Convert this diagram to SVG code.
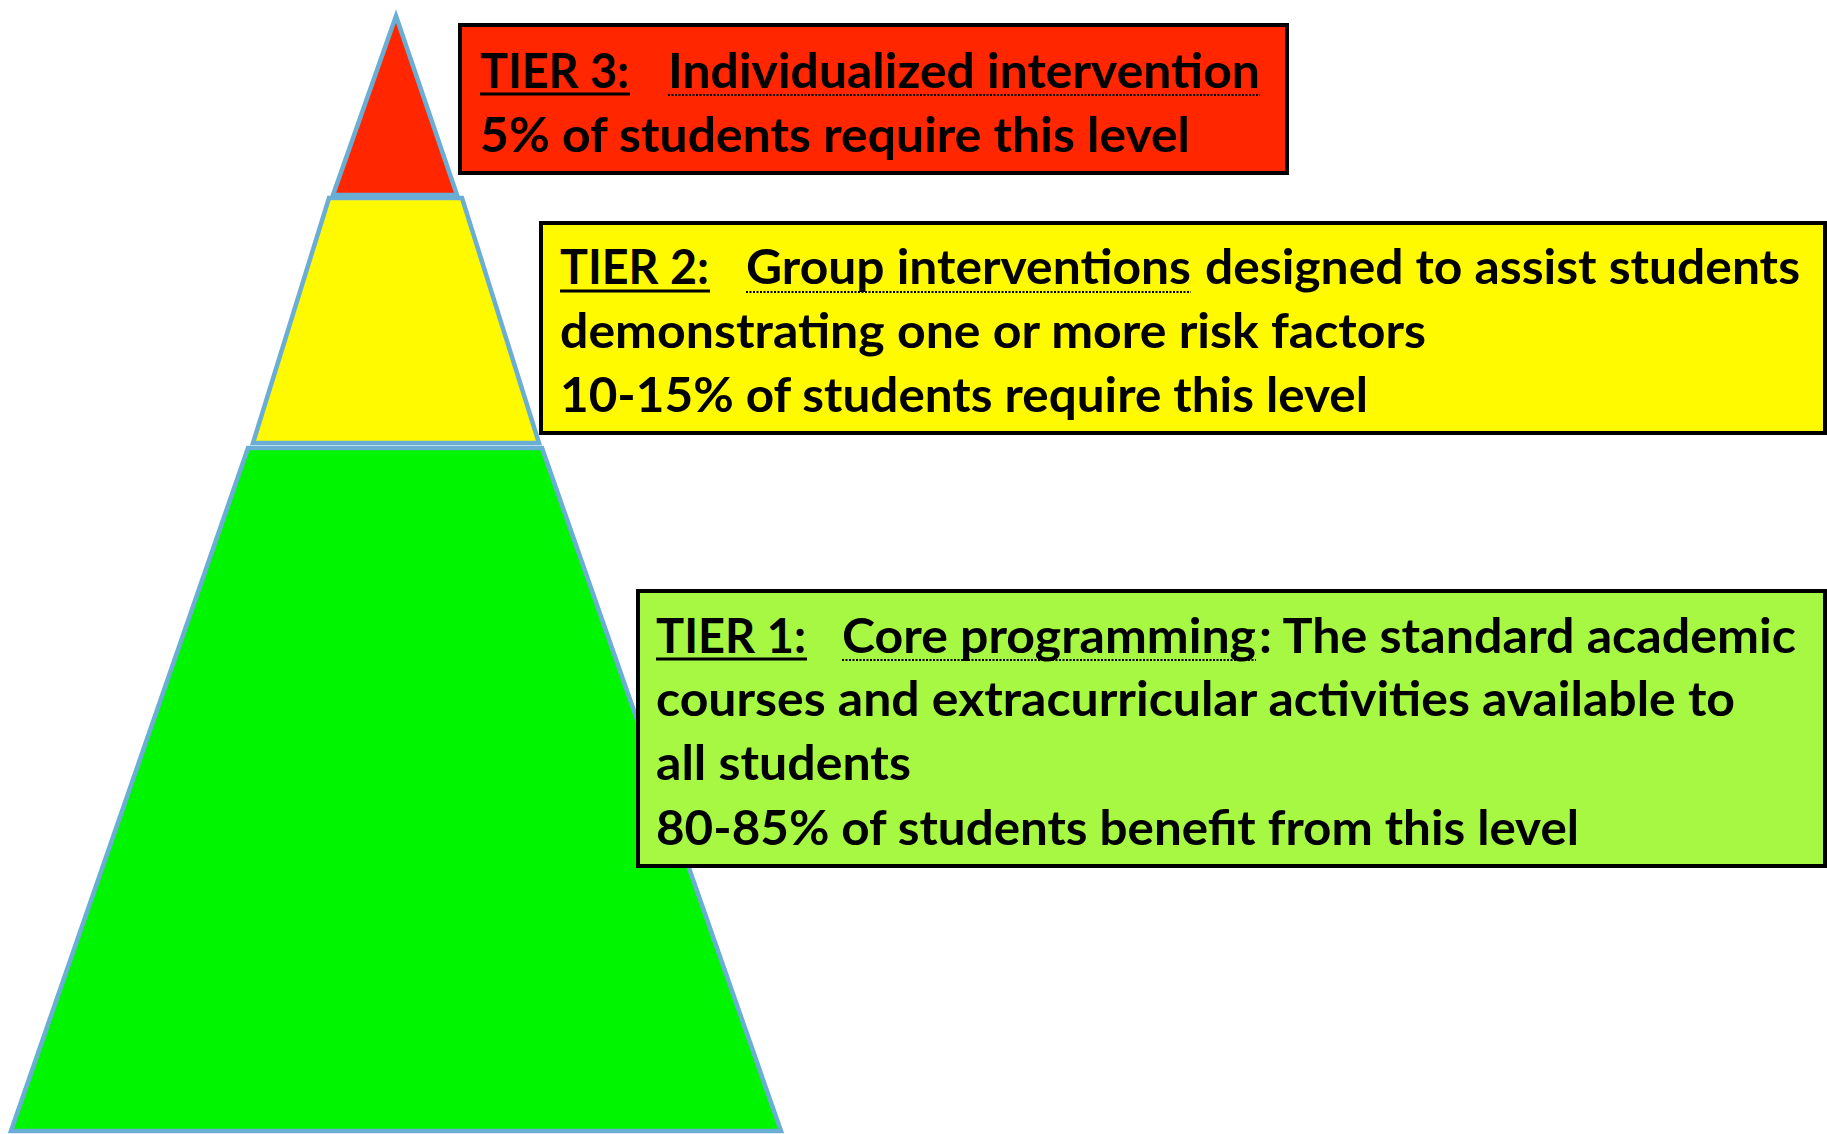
<svg xmlns="http://www.w3.org/2000/svg" width="1827" height="1134" viewBox="0 0 1827 1134">
<style>
.tier{stroke:#6AAED6;stroke-width:4.5;stroke-linejoin:miter;stroke-miterlimit:10}
.box{stroke:#000;stroke-width:4}
.t{font-family:Lato,"Liberation Sans",sans-serif;font-weight:700;font-size:47.5px;fill:#000}
.ul{stroke:#000;stroke-width:3}
.dul{stroke:#000;stroke-width:2;stroke-dasharray:2 1.5}
</style>
<rect width="1827" height="1134" fill="#fff"/>
<g id="pyramid">
<polygon id="tier3-shape" class="tier" fill="#FF2600" points="396,16 457,195 333,195"/>
<polygon id="tier2-shape" class="tier" fill="#FFFA00" points="329,198 462,198 539,443 253,443"/>
<polygon id="tier1-shape" class="tier" fill="#00F500" points="248,448 542,448 781,1131 11,1131"/>
</g>
<g id="tier3-box">
<rect class="box" x="460" y="25" width="827" height="148" fill="#FF2600"/>
<text class="t" x="480" y="88" textLength="149" lengthAdjust="spacingAndGlyphs">TIER 3:</text>
<text class="t" x="668" y="88" textLength="592" lengthAdjust="spacingAndGlyphs">Individualized intervention</text>
<line class="ul" x1="480" y1="94" x2="630" y2="94"/>
<line class="dul" x1="668" y1="95" x2="1260" y2="95"/>
<text class="t" x="480" y="152" textLength="710" lengthAdjust="spacingAndGlyphs">5% of students require this level</text>
</g>
<g id="tier2-box">
<rect class="box" x="541" y="223" width="1284" height="210" fill="#FFFA00"/>
<text class="t" x="560" y="284" textLength="149" lengthAdjust="spacingAndGlyphs">TIER 2:</text>
<text class="t" x="746" y="284" textLength="445" lengthAdjust="spacingAndGlyphs">Group interventions</text>
<text class="t" x="1205" y="284" textLength="595" lengthAdjust="spacingAndGlyphs">designed to assist students</text>
<line class="ul" x1="560" y1="291" x2="710" y2="291"/>
<line class="dul" x1="746" y1="292" x2="1191" y2="292"/>
<text class="t" x="560" y="348" textLength="866" lengthAdjust="spacingAndGlyphs">demonstrating one or more risk factors</text>
<text class="t" x="560" y="412" textLength="808" lengthAdjust="spacingAndGlyphs">10-15% of students require this level</text>
</g>
<g id="tier1-box">
<rect class="box" x="638" y="591" width="1187" height="275" fill="#A7F842"/>
<text class="t" x="656" y="653" textLength="150" lengthAdjust="spacingAndGlyphs">TIER 1:</text>
<text class="t" x="842" y="653" textLength="414" lengthAdjust="spacingAndGlyphs">Core programming</text>
<text class="t" x="1259" y="653" textLength="537" lengthAdjust="spacingAndGlyphs">: The standard academic</text>
<line class="ul" x1="656" y1="659" x2="807" y2="659"/>
<line class="dul" x1="842" y1="660" x2="1256" y2="660"/>
<text class="t" x="656" y="716" textLength="1079" lengthAdjust="spacingAndGlyphs">courses and extracurricular activities available to</text>
<text class="t" x="656" y="780" textLength="255" lengthAdjust="spacingAndGlyphs">all students</text>
<text class="t" x="656" y="845" textLength="923" lengthAdjust="spacingAndGlyphs">80-85% of students benefit from this level</text>
</g>
</svg>
